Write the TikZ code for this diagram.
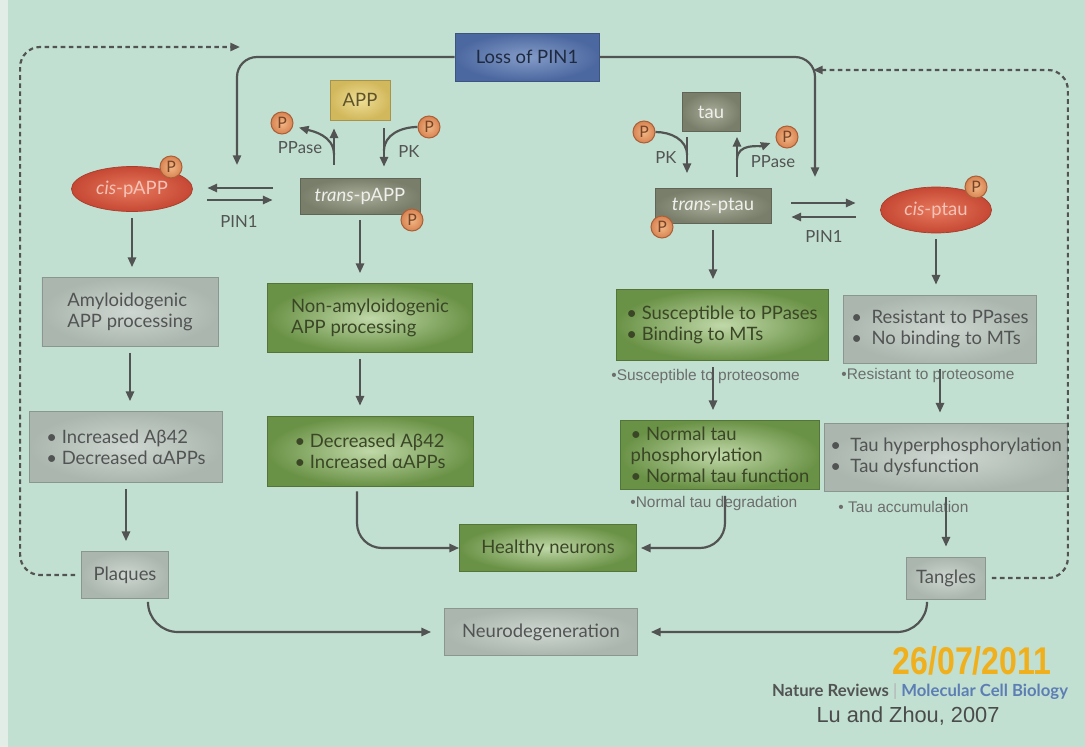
\documentclass[tikz,border=0pt]{standalone}
\usepackage{fontspec}
\setmainfont{Lato}
\newfontfamily\notefont{Liberation Sans}
\usetikzlibrary{positioning, arrows.meta, calc, shapes.geometric}

\definecolor{slide}{RGB}{194,224,209}
\definecolor{slideedge}{RGB}{226,237,232}
\definecolor{ink}{RGB}{82,84,84}
\definecolor{grayin}{RGB}{206,215,209}
\definecolor{grayout}{RGB}{170,182,174}
\definecolor{grayline}{RGB}{140,150,144}
\definecolor{greenin}{RGB}{192,216,168}
\definecolor{greenout}{RGB}{106,146,70}
\definecolor{greentext}{RGB}{58,70,38}
\definecolor{darkin}{RGB}{168,172,152}
\definecolor{darkout}{RGB}{120,126,106}
\definecolor{bluein}{RGB}{132,156,200}
\definecolor{blueout}{RGB}{76,104,160}
\definecolor{yellowin}{RGB}{238,222,150}
\definecolor{yellowout}{RGB}{210,184,92}
\definecolor{redin}{RGB}{230,120,92}
\definecolor{redout}{RGB}{198,72,52}
\definecolor{pin}{RGB}{242,184,134}
\definecolor{pout}{RGB}{216,132,82}
\definecolor{pedge}{RGB}{170,96,56}
\definecolor{datecol}{RGB}{240,176,30}
\definecolor{natblue}{RGB}{92,126,180}

\begin{document}
\begin{tikzpicture}[
  x=0.2mm, y=-0.2mm,
  >={Triangle[length=5.5pt, width=4.6pt]},
  line/.style={draw=ink, line width=1.25pt},
  flow/.style={line, ->, shorten <=1.2mm, shorten >=2mm},
  feedback/.style={line, ->, dash pattern=on 2.6pt off 2pt, rounded corners=4mm},
  boxtext/.style={font=\fontsize{10.5}{12}\selectfont, align=left, inner ysep=1pt},
  grybox/.style={rectangle, draw=grayline, line width=0.4pt,
    inner color=grayin, outer color=grayout, text=ink, boxtext},
  grnbox/.style={rectangle, draw=greenout!80!black, line width=0.4pt,
    inner color=greenin, outer color=greenout, text=greentext, boxtext},
  darkbox/.style={rectangle, draw=darkout!80!black, line width=0.4pt,
    inner color=darkin, outer color=darkout, text=white!82!darkin, boxtext},
  appbox/.style={rectangle, draw=yellowout!80!black, line width=0.4pt,
    inner color=yellowin, outer color=yellowout, text=yellowout!45!black, boxtext},
  lossbox/.style={rectangle, draw=blueout!80!black, line width=0.4pt,
    inner color=bluein, outer color=blueout, text=blueout!40!black, boxtext},
  cisnode/.style={ellipse, draw=redout!85!black, line width=0.4pt, inner sep=0pt,
    inner color=redin, outer color=redout, text=redin!45!white, boxtext},
  phos/.style={circle, minimum size=0.44cm, inner sep=0pt, draw=pedge, line width=0.6pt,
    inner color=pin, outer color=pout, text=pedge!70!black,
    font=\fontsize{9}{9}\selectfont},
  enz/.style={text=ink, font=\fontsize{9.5}{10}\selectfont},
  note/.style={text=ink!85, font=\notefont\fontsize{8.8}{10}\selectfont,
    anchor=west, inner sep=0pt},
]

% === slide ===
\useasboundingbox (0,0) rectangle (1085,747);
\fill[slide] (0,0) rectangle (1085,747);
\fill[slideedge] (0,0) rectangle (8,747);

% === top ===
\node[lossbox, minimum width=2.88cm, minimum height=0.96cm] (loss) at (527,57) {Loss of PIN1};

% === APP side (left) ===
\node[appbox, minimum width=1.2cm, minimum height=0.8cm] (app) at (360,100) {APP};
\node[darkbox, minimum width=2.4cm, minimum height=0.72cm] (tpapp) at (360,196) {\textit{trans}-pAPP};
\node[cisnode, minimum width=2.42cm, minimum height=0.9cm] (cpapp) at (132,189) {\textit{cis}-pAPP};
\node[grybox, minimum width=3.52cm, minimum height=1.38cm] (amyl) at (130,312)
  {Amyloidogenic\\APP processing};
\node[grnbox, minimum width=4.1cm, minimum height=1.38cm] (nonamyl) at (370,318)
  {Non-amyloidogenic\\APP processing};
\node[grybox, minimum width=3.86cm, minimum height=1.42cm] (incr) at (126,447)
  {\textbullet\ Increased Aβ42\\\textbullet\ Decreased αAPPs};
\node[grnbox, minimum width=4.12cm, minimum height=1.4cm] (decr) at (370,451)
  {\textbullet\ Decreased Aβ42\\\textbullet\ Increased αAPPs};
\node[grybox, minimum width=1.74cm, minimum height=0.94cm] (plaques) at (125,575) {Plaques};

% === tau side (right) ===
\node[darkbox, minimum width=1.16cm, minimum height=0.78cm] (tau) at (711,112) {tau};
\node[darkbox, minimum width=2.32cm, minimum height=0.7cm] (tptau) at (713,206) {\textit{trans}-ptau};
\node[cisnode, minimum width=2.22cm, minimum height=0.92cm] (cptau) at (936,210) {\textit{cis}-ptau};
\node[grnbox, minimum width=4.24cm, minimum height=1.42cm] (susc) at (722,325)
  {\textbullet\ Susceptible to PPases\\\textbullet\ Binding to MTs};
\node[grybox, minimum width=3.86cm, minimum height=1.36cm] (resist) at (940,329)
  {\textbullet\ \ Resistant to PPases\\\textbullet\ \ No binding to MTs};
\node[grnbox, minimum width=3.98cm, minimum height=1.38cm] (ntau) at (720,455)
  {\textbullet\ Normal tau\\phosphorylation\\\textbullet\ Normal tau function};
\node[grybox, minimum width=4.74cm, minimum height=1.36cm] (hyper) at (946,457)
  {\textbullet\ \ Tau hyperphosphorylation\\\textbullet\ \ Tau dysfunction};
\node[grybox, minimum width=1.58cm, minimum height=0.84cm] (tangles) at (946,578) {Tangles};

% === outcome ===
\node[grnbox, minimum width=3.54cm, minimum height=0.94cm] (healthy) at (548,548) {Healthy neurons};
\node[grybox, minimum width=3.86cm, minimum height=0.94cm] (neuro) at (541,632) {Neurodegeneration};

% phosphates
\node[phos] (pcp) at (171,167) {P};
\node[phos] (ptp) at (412,220) {P};
\node[phos] (pa1) at (282,123) {P};
\node[phos] (pa2) at (429,127) {P};
\node[phos] (pt1) at (644,132) {P};
\node[phos] (pt2) at (787,137) {P};
\node[phos] (ptt) at (662,227) {P};
\node[phos] (pct) at (976,187) {P};

% enzyme labels
\node[enz] (ppa) at (300,148) {PPase};
\node[enz] (pka) at (409,152) {PK};
\node[enz] (pkt) at (666,158) {PK};
\node[enz] (ppt) at (773,162) {PPase};
\node[enz] (pina) at (239,222) {PIN1};
\node[enz] (pint) at (824,237) {PIN1};

% small notes
\node[note] (susnote) at (611,376) {\textbullet Susceptible to proteosome};
\node[note] (resnote) at (841,375) {\textbullet Resistant to proteosome};
\node[note] (ntnote) at (630,503) {\textbullet Normal tau degradation};
\node[note] (tanote) at (838,507) {\textbullet\ Tau accumulation};

% Loss of PIN1 connectors
\coordinate (pinA) at (237,165);
\coordinate (pinB) at (815,177);
\draw[line, ->, rounded corners=4mm] (loss.west) -| (pinA);
\draw[line, ->, rounded corners=4mm] (loss.east) -| (pinB);

% phosphorylation, APP
\draw[line, ->, shorten <=2.6mm, shorten >=1.6mm] ([xshift=-5.2mm]tpapp.north) -- ([xshift=-5.2mm]app.south);
\draw[line, ->, shorten >=1.2mm] ([xshift=-5.2mm, yshift=4.6mm]tpapp.north) to[out=90, in=-15] (pa1);
\draw[line, ->, shorten <=1.6mm, shorten >=2.2mm] ([xshift=4.8mm]app.south) -- ([xshift=4.8mm]tpapp.north);
\draw[line] (pa2) to[out=180, in=90] ([xshift=4.8mm, yshift=5.4mm]tpapp.north);

% phosphorylation, tau
\draw[line, ->, shorten <=1mm, shorten >=3mm] ([xshift=-4.8mm]tau.south) -- ([xshift=-4.8mm]tau.south |- tptau.north);
\draw[line] (pt1) to[out=0, in=90] ([xshift=-4.8mm, yshift=-4.6mm]tau.south);
\draw[line, ->, shorten <=2.3mm, shorten >=1mm] ([xshift=4.8mm]tptau.north) -- ([xshift=4.8mm]tptau.north |- tau.south);
\draw[line, ->, shorten >=1.2mm] ([xshift=4.8mm, yshift=5.7mm]tptau.north) to[out=90, in=200] (pt2);

% PIN1 isomerisation
\draw[line, ->, shorten <=5.4mm, shorten >=2.9mm] (tpapp.west |- 0,188) -- (cpapp.east |- 0,188);
\draw[line, ->, shorten <=2.9mm, shorten >=5.4mm] (cpapp.east |- 0,200) -- (tpapp.west |- 0,200);
\draw[line, ->, shorten <=4mm, shorten >=4.9mm] (tptau.east |- 0,203) -- (cptau.west |- 0,203);
\draw[line, ->, shorten <=4.9mm, shorten >=4mm] (cptau.west |- 0,217) -- (tptau.east |- 0,217);

% downstream flow
\draw[flow] (cpapp.south) -- (cpapp.south |- amyl.north);
\draw[flow] (amyl.south) -- (amyl.south |- incr.north);
\draw[flow] (incr.south) -- (incr.south |- plaques.north);
\draw[flow] (tpapp.south) -- (tpapp.south |- nonamyl.north);
\draw[flow] (nonamyl.south -| tpapp.south) -- (tpapp.south |- decr.north);
\draw[flow] (tptau.south) -- (tptau.south |- susc.north);
\draw[flow] (susc.south -| tptau.south) -- (tptau.south |- ntau.north);
\draw[flow] (cptau.south) -- (cptau.south |- resist.north);
\draw[flow] (resist.south) -- (resist.south |- hyper.north);
\draw[flow] (hyper.south) -- (hyper.south |- tangles.north);

% to outcomes
\draw[line, ->, rounded corners=5mm, shorten <=1mm] ([xshift=-2.6mm]decr.south) |- (healthy.west);
\draw[line, ->, rounded corners=5mm, shorten <=1.2mm, shorten >=0.8mm] ([xshift=1mm]ntau.south) |- (healthy.east);
\draw[line, ->, rounded corners=6mm, shorten <=1mm, shorten >=2.6mm] ([xshift=4.6mm]plaques.south) |- (neuro.west);
\draw[line, ->, rounded corners=6mm, shorten <=1mm, shorten >=2.6mm] ([xshift=-3.8mm]tangles.south) |- (neuro.east);

% feedback loops
\coordinate (fbA) at (240,47);
\coordinate (fbB) at (813,70);
\draw[feedback, shorten <=1.2mm] (plaques.west) -- ++(-61,0) |- (fbA);
\draw[feedback, shorten <=1.2mm] (tangles.east) -- ++(82,0) |- (fbB);

% footer
\node[font=\notefont\bfseries\fontsize{22}{22}\selectfont, text=datecol] (date) at (972,661)
  {\scalebox{0.83}[1]{26/07/2011}};
\node[font=\bfseries\fontsize{9.5}{10}\selectfont] (journal) at (920,692)
  {\textcolor{ink}{Nature Reviews} \textcolor{gray!60}{\mdseries|} \textcolor{natblue}{Molecular Cell Biology}};
\node[font=\notefont\fontsize{12.4}{14}\selectfont, text=ink!90!black] (cite) at (908,716) {Lu and Zhou, 2007};

\end{tikzpicture}
\end{document}
